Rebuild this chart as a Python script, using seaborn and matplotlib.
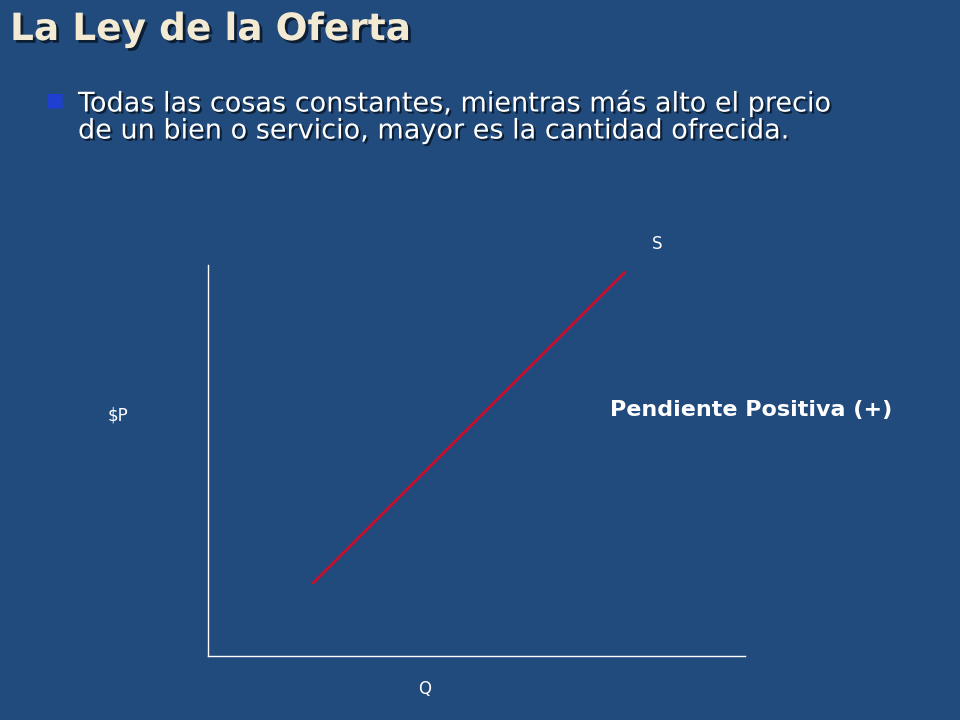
import matplotlib
matplotlib.use("Agg")
import matplotlib.pyplot as plt
import matplotlib.patheffects as pe
import seaborn as sns
import pandas as pd

# supply curve endpoints (quantity, price)
quantity = [1.96, 7.75]
price = [1.87, 9.8]

bg = "#214a7d"
fig = plt.figure(figsize=(9.6, 7.2), dpi=100, facecolor=bg)
ax = fig.add_axes([208 / 960, 64 / 720, 537 / 960, 391 / 720])
ax.set_facecolor(bg)

df = pd.DataFrame({"Q": quantity, "P": price})
sns.lineplot(data=df, x="Q", y="P", ax=ax, color="#c8102e", linewidth=2)

ax.set_xlim(0, 10)
ax.set_ylim(0, 10)
ax.set_xticks([])
ax.set_yticks([])
ax.set_xlabel("")
ax.set_ylabel("")
for s in ["top", "right"]:
    ax.spines[s].set_visible(False)
for s in ["left", "bottom"]:
    ax.spines[s].set_color("white")
    ax.spines[s].set_linewidth(1)

# title and bullet text
fig.text(10 / 960, 1 - 30 / 720, "La Ley de la Oferta", fontsize=27, fontweight="bold",
         color="#f2ead3", va="center", ha="left",
         path_effects=[pe.withSimplePatchShadow(offset=(2, -2), shadow_rgbFace="black", alpha=0.6)])
fig.text(45 / 960, 1 - 100 / 720, "\u25a0", fontsize=14, color="#1f3fd0", va="center")
fig.text(78 / 960, 1 - 117 / 720,
         "Todas las cosas constantes, mientras más alto el precio\nde un bien o servicio, mayor es la cantidad ofrecida.",
         fontsize=19.5, color="white", va="center", ha="left", linespacing=1.05,
         path_effects=[pe.withSimplePatchShadow(offset=(1.5, -1.5), shadow_rgbFace="black", alpha=0.6)])

fig.text(657 / 960, 1 - 244 / 720, "S", fontsize=12, color="white", ha="center", va="center")
fig.text(118 / 960, 1 - 416 / 720, "$P", fontsize=12, color="white", ha="center", va="center")
fig.text(425 / 960, 1 - 689 / 720, "Q", fontsize=12, color="white", ha="center", va="center")
fig.text(610 / 960, 1 - 410 / 720, "Pendiente Positiva (+)", fontsize=16, fontweight="bold",
         color="white", ha="left", va="center")

fig.savefig("out.png", dpi=100, facecolor=bg)
